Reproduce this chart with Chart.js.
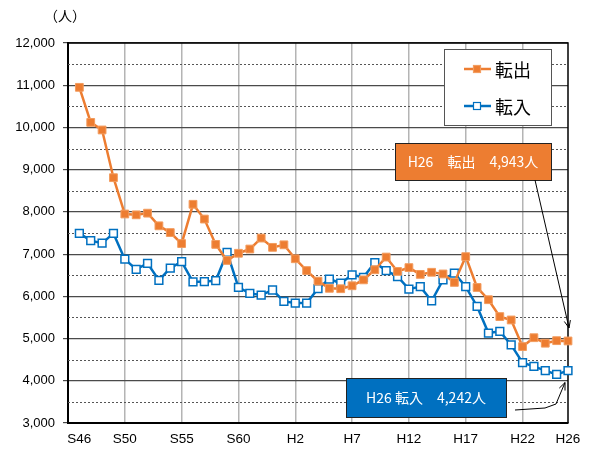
<!DOCTYPE html>
<html>
<head>
<meta charset="utf-8">
<script src="https://cdn.jsdelivr.net/npm/chart.js@4.4.0/dist/chart.umd.min.js"></script>
<style>
  html, body { margin: 0; padding: 0; background: #fff; }
  #wrap { width: 590px; height: 452px; }
</style>
</head>
<body>
<div id="wrap"><canvas id="chart" width="590" height="452"></canvas></div>
<script>
// S45 has no data; it only marks the left edge of the axis
const years = [
  "S45","S46","S47","S48","S49","S50","S51","S52","S53","S54","S55","S56","S57","S58","S59","S60","S61","S62","S63",
  "H1","H2","H3","H4","H5","H6","H7","H8","H9","H10","H11","H12","H13","H14","H15","H16","H17","H18","H19","H20",
  "H21","H22","H23","H24","H25","H26"
];
const shownLabels = ["S46","S50","S55","S60","H2","H7","H12","H17","H22","H26"];
const gridYears = ["S50","S55","S60","H2","H7","H12","H17","H22"];

const tenshutsu = [null,
  10950,10120,9940,8810,7950,7930,7970,7670,7510,7250,
  8180,7830,7230,6850,7020,7120,7380,7160,
  7220,6890,6610,6360,6190,6180,6250,6390,6630,6930,
  6590,6680,6520,6570,6530,6330,6940,6210,5920,5520,
  5440,4810,5020,4890,4950,4943
];
const tennyu = [null,
  7490,7320,7260,7490,6880,6640,6780,6380,6670,6820,
  6340,6350,6370,7040,6210,6070,6030,6150,
  5880,5840,5840,6180,6410,6310,6510,6450,6800,6610,
  6470,6170,6230,5890,6390,6550,6230,5760,5130,5170,
  4850,4430,4340,4240,4150,4242
];
const yMin = 3000, yMax = 12000;

const ORANGE = "#ED7D31";
const BLUE = "#0070C0";
const JP = "'Noto Sans CJK JP', 'Noto Sans', sans-serif";

Chart.defaults.font.family = "'Liberation Sans', Arial, sans-serif";
Chart.defaults.color = "#000";

function fmt(v){ return v.toLocaleString("en-US"); }

function arrowHead(ctx, x0, y0, x1, y1){
  const a = Math.atan2(y1 - y0, x1 - x0);
  const L = 8;
  ctx.beginPath();
  ctx.moveTo(x1 - L * Math.cos(a - 0.4), y1 - L * Math.sin(a - 0.4));
  ctx.lineTo(x1, y1);
  ctx.lineTo(x1 - L * Math.cos(a + 0.4), y1 - L * Math.sin(a + 0.4));
  ctx.stroke();
}

const decor = {
  id: "decor",
  beforeDatasetsDraw(chart){
    const { ctx, chartArea: a } = chart;
    const y = chart.scales.y;
    ctx.save();
    // dotted half-step lines
    ctx.strokeStyle = "#555";
    ctx.lineWidth = 1;
    ctx.setLineDash([2, 2]);
    for(let v = yMin + 500; v < yMax; v += 1000){
      const py = Math.round(y.getPixelForValue(v)) + 0.5;
      ctx.beginPath();
      ctx.moveTo(a.left, py);
      ctx.lineTo(a.right, py);
      ctx.stroke();
    }
    ctx.setLineDash([]);
    // top and right frame
    ctx.strokeStyle = "#000";
    ctx.lineWidth = 1.5;
    ctx.beginPath();
    ctx.moveTo(a.left, a.top);
    ctx.lineTo(a.right, a.top);
    ctx.lineTo(a.right, a.bottom);
    ctx.stroke();
    ctx.restore();
  },
  afterDraw(chart){
    const { ctx } = chart;
    ctx.save();

    // unit label
    ctx.fillStyle = "#000";
    ctx.font = "14px " + JP;
    ctx.textAlign = "center";
    ctx.textBaseline = "middle";
    ctx.fillText("（人）", 65, 16);

    // legend
    ctx.fillStyle = "#fff";
    ctx.fillRect(444, 49, 107, 76);
    ctx.strokeStyle = "#555";
    ctx.lineWidth = 1;
    ctx.strokeRect(444.5, 49.5, 107, 76);
    chart.data.datasets.forEach((ds, i) => {
      const ly = 69 + i * 37;
      ctx.strokeStyle = ds.borderColor;
      ctx.lineWidth = 2.5;
      ctx.beginPath();
      ctx.moveTo(464, ly);
      ctx.lineTo(491, ly);
      ctx.stroke();
      ctx.fillStyle = ds.pointBackgroundColor;
      ctx.fillRect(473.5, ly - 3.5, 7, 7);
      ctx.strokeStyle = ds.pointBorderColor;
      ctx.lineWidth = 1.2;
      ctx.strokeRect(473.5, ly - 3.5, 7, 7);
      ctx.fillStyle = "#000";
      ctx.font = "18px " + JP;
      ctx.textAlign = "left";
      ctx.textBaseline = "middle";
      ctx.fillText(ds.label, 495, ly + 1);
    });

    // callouts for the last year
    const last = years.length - 1;
    const pOut = chart.getDatasetMeta(0).data[last];
    const pIn = chart.getDatasetMeta(1).data[last];

    ctx.fillStyle = ORANGE;
    ctx.fillRect(395, 143, 156, 37);
    ctx.strokeStyle = "#222";
    ctx.lineWidth = 1;
    ctx.strokeRect(395.5, 143.5, 156, 37);
    ctx.fillStyle = "#fff";
    ctx.font = "14px " + JP;
    ctx.textAlign = "center";
    ctx.fillText(years[last] + "　転出　" + fmt(tenshutsu[last]) + "人", 473, 162);

    ctx.fillStyle = BLUE;
    ctx.fillRect(346, 378, 160, 39);
    ctx.strokeRect(346.5, 378.5, 160, 39);
    ctx.fillStyle = "#fff";
    ctx.fillText(years[last] + " 転入　" + fmt(tennyu[last]) + "人", 426, 398);

    ctx.strokeStyle = "#000";
    ctx.lineWidth = 1;
    const tx = pOut.x + 1, ty = pOut.y - 13;
    ctx.beginPath();
    ctx.moveTo(535, 180);
    ctx.lineTo(tx, ty);
    ctx.stroke();
    arrowHead(ctx, 535, 180, tx, ty);

    const bx = pIn.x - 3, by = pIn.y + 12;
    ctx.beginPath();
    ctx.moveTo(515, 410);
    ctx.lineTo(545, 408);
    ctx.lineTo(556, 404);
    ctx.lineTo(bx, by);
    ctx.stroke();
    arrowHead(ctx, 556, 404, bx, by);

    ctx.restore();
  }
};

new Chart(document.getElementById("chart"), {
  type: "line",
  data: {
    labels: years,
    datasets: [
      {
        label: "転出",
        data: tenshutsu,
        borderColor: ORANGE,
        backgroundColor: ORANGE,
        borderWidth: 2.5,
        pointStyle: "rect",
        pointRadius: 5.5,
        pointBackgroundColor: ORANGE,
        pointBorderColor: "#F39C5E",
        pointBorderWidth: 1,
        tension: 0,
        clip: false
      },
      {
        label: "転入",
        data: tennyu,
        borderColor: BLUE,
        backgroundColor: "#fff",
        borderWidth: 2.5,
        pointStyle: "rect",
        pointRadius: 5.5,
        pointBackgroundColor: "#fff",
        pointBorderColor: BLUE,
        pointBorderWidth: 1.5,
        tension: 0,
        clip: false
      }
    ]
  },
  options: {
    responsive: false,
    animation: false,
    layout: { padding: { top: 43, right: 22, left: 0, bottom: 0 } },
    plugins: {
      legend: { display: false },
      tooltip: { enabled: false }
    },
    scales: {
      x: {
        type: "category",
        offset: false,
        afterFit: (s) => { s.height = 29; },
        border: { color: "#000", width: 2 },
        grid: {
          drawTicks: false,
          lineWidth: 1.5,
          color: (c) => gridYears.includes(years[c.index]) ? "#b4b4b4" : "rgba(0,0,0,0)"
        },
        ticks: {
          autoSkip: false,
          maxRotation: 0,
          padding: 8,
          color: "#000",
          font: { size: 13.5 },
          callback: (v, i) => shownLabels.includes(years[i]) ? years[i] : ""
        }
      },
      y: {
        min: yMin,
        max: yMax,
        afterFit: (s) => { s.width = 68; },
        border: { color: "#000", width: 2 },
        grid: { color: "#4a4a4a", lineWidth: 1.2, tickLength: 5 },
        ticks: {
          stepSize: 1000,
          padding: 8,
          color: "#000",
          font: { size: 13 },
          callback: (v) => fmt(v)
        }
      }
    }
  },
  plugins: [decor]
});
</script>
</body>
</html>
